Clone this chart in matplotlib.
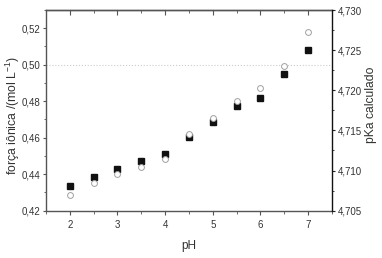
import matplotlib
matplotlib.use("Agg")
import matplotlib.pyplot as plt
from matplotlib.ticker import MultipleLocator, FuncFormatter

plt.rcParams['font.family'] = ['Liberation Sans', 'DejaVu Sans']
plt.rcParams['mathtext.default'] = 'regular'

ph = [2.0, 2.5, 3.0, 3.5, 4.0, 4.5, 5.0, 5.5, 6.0, 6.5, 7.0]
forca_ionica = [0.4335, 0.4383, 0.4427, 0.4471, 0.4512, 0.4602, 0.4686, 0.4774, 0.4818, 0.4951, 0.5081]
pka_calculado = [4.7069, 4.7085, 4.7096, 4.7104, 4.7114, 4.7145, 4.7165, 4.7187, 4.7203, 4.7230, 4.7273]

W, H = 382, 258
fig = plt.figure(figsize=(W / 100, H / 100), dpi=100)
ax = fig.add_axes([46 / W, 1 - 210.7 / H, 286 / W, 200.7 / H])
ax2 = ax.twinx()

gray = '#555555'
tc = '#333333'

ax.axhline(0.50, color='#cccccc', lw=0.8, ls=':', zorder=0)
ax2.plot(ph, pka_calculado, ls='none', marker='o', ms=4.2, mfc='white', mec='#a0a0a0', mew=0.7)
ax.plot(ph, forca_ionica, ls='none', marker='s', ms=3.9, mfc='#111111', mec='#111111', zorder=3)

ax.set_xlim(1.5, 7.5)
ax.set_ylim(0.42, 0.53)
ax2.set_ylim(4.705, 4.730)

comma = lambda fmt: FuncFormatter(lambda v, p: (fmt % v).replace('.', ','))
ax.xaxis.set_major_locator(MultipleLocator(1))
ax.xaxis.set_minor_locator(MultipleLocator(0.5))
ax.yaxis.set_major_locator(MultipleLocator(0.02))
ax.yaxis.set_minor_locator(MultipleLocator(0.01))
ax.yaxis.set_major_formatter(comma('%.2f'))
ax2.yaxis.set_major_locator(MultipleLocator(0.005))
ax2.yaxis.set_minor_locator(MultipleLocator(0.0025))
ax2.yaxis.set_major_formatter(comma('%.3f'))

ax.tick_params(axis='x', which='both', direction='out', colors=gray, labelcolor=tc, labelsize=7, pad=4)
ax.tick_params(axis='x', which='major', length=3)
ax.tick_params(axis='x', which='minor', length=2)
ax.tick_params(axis='y', which='both', direction='out', colors=gray, labelcolor=tc, labelsize=7, pad=1.5)
ax.tick_params(axis='y', which='major', length=2.5)
ax.tick_params(axis='y', which='minor', length=1.5)
ax2.tick_params(axis='y', which='both', direction='out', colors='#222222', labelcolor=tc, labelsize=7, pad=1.5)
ax2.tick_params(axis='y', which='major', length=2.5)
ax2.tick_params(axis='y', which='minor', length=1.5)

top = ax.secondary_xaxis('top')
top.xaxis.set_major_locator(MultipleLocator(1))
top.xaxis.set_minor_locator(MultipleLocator(0.5))
top.tick_params(axis='x', which='both', direction='in', colors=gray, labeltop=False)
top.tick_params(axis='x', which='major', length=3.5)
top.tick_params(axis='x', which='minor', length=2)
top.spines['top'].set_color(gray)
top.spines['top'].set_linewidth(1.0)

for s in ['left', 'bottom', 'top']:
    ax.spines[s].set_color(gray)
    ax.spines[s].set_linewidth(1.0)
for s in ['left', 'bottom', 'top']:
    ax2.spines[s].set_visible(False)
ax2.spines['right'].set_color('#111111')
ax2.spines['right'].set_linewidth(1.0)
ax.spines['right'].set_visible(False)

fig.text(189 / W, 1 - 246 / H, 'pH', fontsize=8.5, color=tc, ha='center', va='center')
fig.text(13 / W, 1 - 115 / H, 'força iônica /(mol L$^{-1}$)', fontsize=8.8, color=tc,
         ha='center', va='center', rotation=90)
fig.text(371 / W, 1 - 105 / H, 'pKa calculado', fontsize=8.7, color=tc,
         ha='center', va='center', rotation=90)

fig.savefig('out.png', dpi=100)
